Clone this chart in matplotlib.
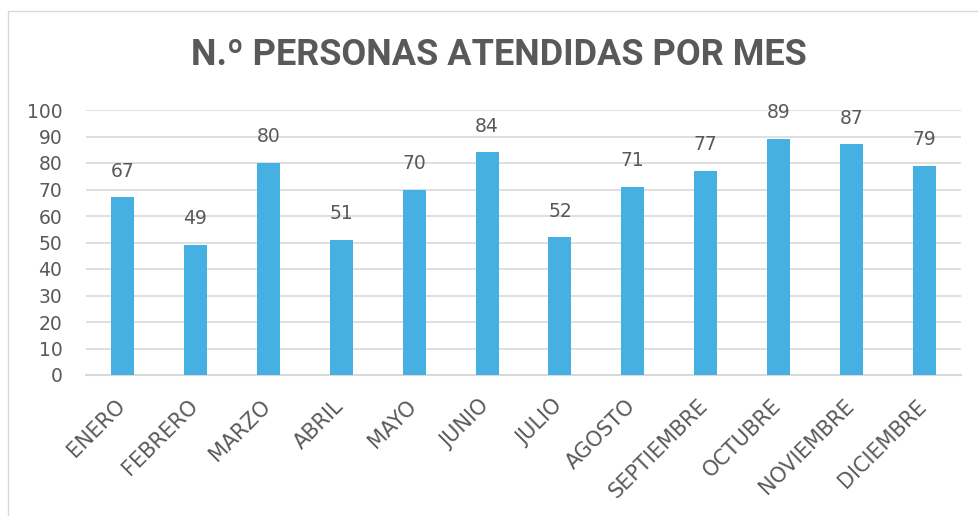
import matplotlib
matplotlib.use("Agg")
import matplotlib.pyplot as plt
from matplotlib.patches import Rectangle
from matplotlib.transforms import ScaledTranslation

months = ["ENERO", "FEBRERO", "MARZO", "ABRIL", "MAYO", "JUNIO", "JULIO",
          "AGOSTO", "SEPTIEMBRE", "OCTUBRE", "NOVIEMBRE", "DICIEMBRE"]
values = [67, 49, 80, 51, 70, 84, 52, 71, 77, 89, 87, 79]
yticks = [0, 10, 20, 30, 40, 50, 60, 70, 80, 90, 100]
title = "N.º PERSONAS ATENDIDAS POR MES"

W, H = 979, 516
plt.rcParams['font.family'] = ['DejaVu Sans']
text_color = "#595959"
bar_color = "#45B0E1"
grid_color = "#D9D9D9"

fig = plt.figure(figsize=(W / 100, H / 100), dpi=100)
fig.patch.set_facecolor("white")

# outer chart border
fig.add_artist(Rectangle((8 / W, -0.05), 1.2, 1 - 11 / H + 0.05,
                         transform=fig.transFigure, fill=False,
                         edgecolor="#D9D9D9", linewidth=1.0))

ax = fig.add_axes([86 / W, 1 - 375 / H, (961 - 86) / W, (375 - 110) / H])
x = list(range(len(months)))
bars = ax.bar(x, values, width=0.315, color=bar_color, zorder=3)

ax.set_xlim(-0.5, len(months) - 0.5)
ax.set_ylim(0, 100)
ax.set_yticks(yticks)
ax.set_yticklabels([str(t) for t in yticks], fontsize=13.5, color=text_color)
ax.set_xticks(x)
ax.set_xticklabels(months, rotation=45, ha="right", rotation_mode="anchor",
                   fontsize=15, color=text_color)
ax.tick_params(axis="both", length=0)
ax.tick_params(axis="y", pad=17)
ax.tick_params(axis="x", pad=15)
shift = ScaledTranslation(-8 / 100, 0, fig.dpi_scale_trans)
for lbl in ax.get_xticklabels():
    lbl.set_transform(lbl.get_transform() + shift)

ax.yaxis.grid(True, color=grid_color, linewidth=1.2, zorder=0)
ax.set_axisbelow(True)
for s in ["top", "right", "left"]:
    ax.spines[s].set_visible(False)
ax.spines["bottom"].set_color(grid_color)
ax.spines["bottom"].set_linewidth(1.5)

for xi, v in zip(x, values):
    ax.annotate(str(v), (xi, v), xytext=(0, 12), textcoords="offset points",
                ha="center", va="bottom", fontsize=13.5, color=text_color)

fig.text(499 / W, 1 - 55 / H, title, ha="center", va="center",
         fontsize=26, fontweight="bold", color=text_color, family="Roboto")

fig.savefig("out.png", dpi=100)
